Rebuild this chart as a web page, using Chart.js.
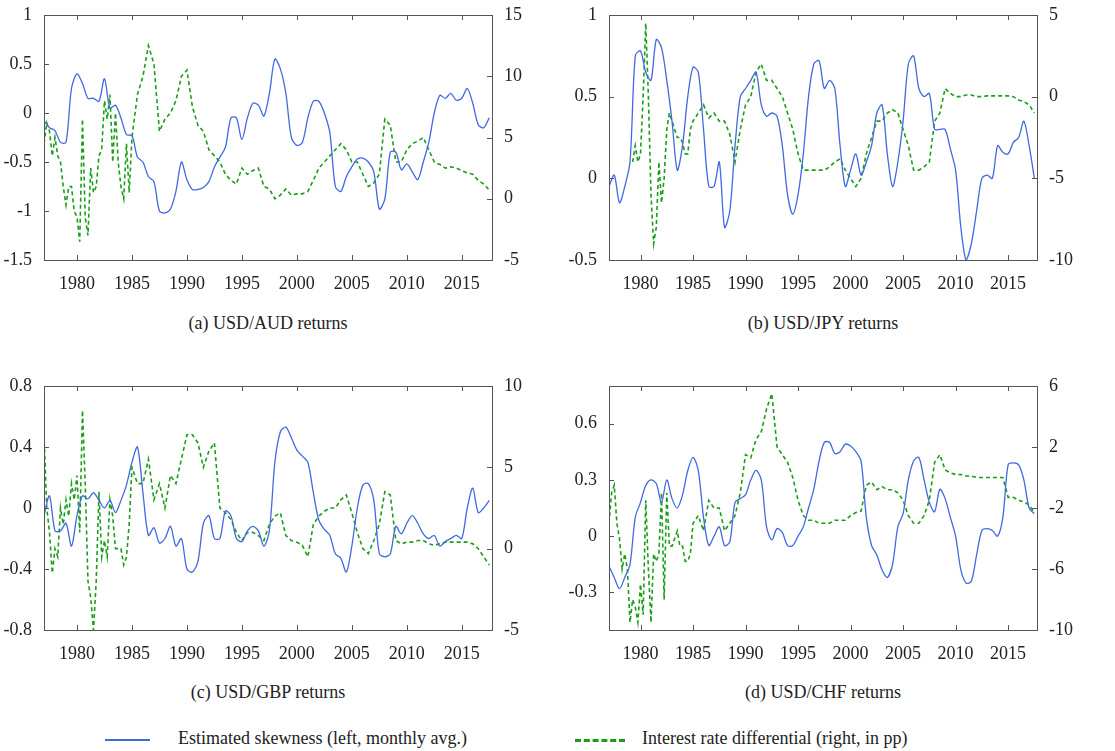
<!DOCTYPE html>
<html>
<head>
<meta charset="utf-8">
<script src="https://cdn.jsdelivr.net/npm/chart.js@4"></script>
<style>
  body { margin: 0; background: #fff; width: 1115px; height: 751px; position: relative; overflow: hidden; font-family: "Liberation Serif", "DejaVu Serif", serif; }
  canvas { position: absolute; }
  .cap { position: absolute; font-size: 18px; color: #222; text-align: center; width: 400px; }
  .legend { position: absolute; top: 728px; font-size: 18px; color: #222; }
  .sw { position: absolute; top: 739px; height: 0; }
</style>
</head>
<body>
<canvas id="ca" width="540" height="290" style="left:0;top:0"></canvas>
<canvas id="cb" width="565" height="290" style="left:550px;top:0"></canvas>
<canvas id="cc" width="540" height="290" style="left:0;top:370px"></canvas>
<canvas id="cd" width="565" height="290" style="left:550px;top:370px"></canvas>
<div class="cap" style="left:68px;top:313px">(a) USD/AUD returns</div>
<div class="cap" style="left:623px;top:313px">(b) USD/JPY returns</div>
<div class="cap" style="left:68px;top:682px">(c) USD/GBP returns</div>
<div class="cap" style="left:623px;top:682px">(d) USD/CHF returns</div>
<div class="sw" style="left:105px;width:45px;border-top:2px solid #4169e1"></div>
<div class="legend" style="left:178px">Estimated skewness (left, monthly avg.)</div>
<div class="sw" style="left:575px;width:50px;border-top:3px dashed #1a9e1a"></div>
<div class="legend" style="left:642px">Interest rate differential (right, in pp)</div>
<script>
// time grids: skewness every half year, rate quarterly until 1985 then half-yearly
const skewYears = [];
for (let y = 1977; y <= 2017.5; y += 0.5) skewYears.push(y);
const rateYears = [];
for (let y = 1977; y < 1985; y += 0.25) rateYears.push(y);
for (let y = 1985; y <= 2017.5; y += 0.5) rateYears.push(y);
const yearTicks = [1980, 1985, 1990, 1995, 2000, 2005, 2010, 2015];

// (a) USD/AUD
const skewAUD = [
  -0.08, -0.15, -0.18, -0.3, -0.3, 0.25, 0.4, 0.3, 0.15, 0.15,
  0.12, 0.35, 0.05, 0.08, -0.05, -0.22, -0.23, -0.45, -0.5, -0.65,
  -0.7, -1.0, -1.02, -0.98, -0.8, -0.5, -0.68, -0.78, -0.78, -0.76,
  -0.7, -0.55, -0.45, -0.35, -0.05, -0.05, -0.27, -0.05, 0.1, 0.08,
  -0.03, 0.2, 0.55, 0.45, 0.2, -0.25, -0.33, -0.3, -0.05, 0.12,
  0.12, 0.0, -0.2, -0.75, -0.8, -0.65, -0.55, -0.47, -0.46, -0.5,
  -0.6, -0.98, -0.88, -0.4, -0.4, -0.58, -0.52, -0.6, -0.68, -0.5,
  -0.3, 0.0, 0.18, 0.15, 0.2, 0.13, 0.15, 0.25, 0.1, -0.12,
  -0.15, -0.05
];
const rateAUD = [
  4.5, 6.2, 5.5, 3.5, 5, 3.5, 3, 1, -0.5, 1, 1, -1, -1.5, -3.5, 6.5, -1.5,
  -3, 2.5, 0.5, 1, 3.5, 4, 8, 6.5, 8.5, 3, 7, 3, 1, 0, 4.5, 0.5,
  5, 8.5, 10, 12.5, 11, 5.5, 6.5, 7, 8, 10,
  10.5, 7.5, 6, 5.5, 4, 3.5, 3, 2, 1.5, 1.2,
  2.5, 2, 2.3, 2.5, 1, 0.8, 0, 0.3, 0.8, 0.3,
  0.4, 0.4, 0.6, 1.5, 2.5, 3, 3.5, 4, 4.5, 4,
  3, 3, 2, 1, 1.3, 2, 6.5, 6, 3, 3,
  4, 4.5, 4.7, 5, 4, 3, 2.8, 2.5, 2.6, 2.5,
  2.3, 2.1, 2, 1.5, 1.2, 0.7
];

// (b) USD/JPY
const skewJPY = [
  -0.05, 0.02, -0.15, -0.05, 0.1, 0.75, 0.78, 0.65, 0.6, 0.85,
  0.8, 0.6, 0.35, 0.05, 0.2, 0.5, 0.68, 0.65, 0.3, -0.05,
  -0.05, 0.1, -0.3, -0.2, 0.2, 0.5, 0.55, 0.6, 0.65, 0.45,
  0.38, 0.4, 0.38, 0.2, -0.1, -0.22, -0.1, 0.15, 0.5, 0.7,
  0.72, 0.55, 0.6, 0.55, 0.2, -0.05, 0.05, 0.15, 0.02, 0.1,
  0.2, 0.4, 0.45, 0.15, -0.05, 0.1, 0.35, 0.7, 0.75, 0.55,
  0.5, 0.52, 0.3, 0.3, 0.3, 0.18, 0.05, -0.3, -0.5, -0.4,
  -0.2, 0.0, 0.02, 0.0, 0.2, 0.16, 0.15, 0.22, 0.25, 0.35,
  0.2, 0.0
];
const rateJPY = [
  null, null, null, null, null, null, null, null, null, -4, -3, -4,
  -3.5, 0, 4.5, 0, -6, -9, -8, -4, -6.5, -5, -2, -1,
  -1.5, -2, -2.5, -2.5, -2.8, -3.5, -3.5, -2,
  -1.5, -1, -0.5, -1.3, -1, -1.5, -1.5, -2.3, -4, -2,
  -0.5, 0, 1.5, 2, 1, 1, 0.5, 0, -1, -2,
  -3.5, -4.5, -4.5, -4.5, -4.5, -4.5, -4.3, -4, -3.8, -4.5,
  -5, -5.5, -5, -3.5, -2.5, -1.5, -1.5, -1, -0.8, -1,
  -2, -3, -4.5, -4.5, -4.3, -4, -1.5, -1, 0.5, 0.2,
  0, 0, 0.1, 0.1, 0, 0, 0.05, 0.05, 0.05, 0.05,
  0.05, 0, -0.2, -0.3, -0.5, -1
];

// (c) USD/GBP
const skewGBP = [
  -0.05, 0.08, -0.15, -0.15, -0.1, -0.25, -0.05, 0.08, 0.06, 0.1,
  0.05, 0.0, 0.05, -0.03, 0.05, 0.15, 0.3, 0.4, 0.1, -0.18,
  -0.13, -0.23, -0.2, -0.12, -0.25, -0.2, -0.4, -0.42, -0.35, -0.1,
  -0.05, -0.2, -0.2, -0.02, -0.05, -0.2, -0.22, -0.15, -0.12, -0.15,
  -0.25, -0.15, 0.3, 0.5, 0.53, 0.46, 0.38, 0.34, 0.3, 0.1,
  -0.08, -0.14, -0.18, -0.3, -0.33, -0.42, -0.25, 0.0, 0.15, 0.16,
  0.05, -0.3, -0.32, -0.3, -0.12, -0.17, -0.1, -0.05, -0.1, -0.17,
  -0.2, -0.18, -0.25, -0.22, -0.2, -0.18, -0.2, 0.0, 0.13, -0.03,
  0.0, 0.05
];
const rateGBP = [
  7, 2.5, 1, -1.5, 0, -0.5, 2.5, 1.5, 3, 2, 4, 3,
  4.5, 1, 8.5, 4, -2, -3, -5, -2, 3.5, -0.5, 0.5, -0.5,
  3, 2, 0, 0, 0, -1, -0.5, 1.5,
  5, 4, 4, 5.5, 3, 4, 2.5, 4.5, 4, 5.5,
  7, 7, 6.5, 5, 6, 6.5, 2.5, 2.2, 1.8, 1,
  0.5, 1, 1, 0.8, 0.5, 1.5, 2, 2.2, 0.8, 0.5,
  0.4, 0.2, -0.5, 1.5, 2, 2.3, 2.5, 2.5, 3.0, 3.3,
  2.2, 1, 0, -0.3, 0.5, 1.5, 3.5, 3.3, 0.5, 0.3,
  0.4, 0.4, 0.5, 0.5, 0.3, 0.2, 0.3, 0.4, 0.4, 0.4,
  0.4, 0.4, 0.3, 0, -0.5, -1
];

// (d) USD/CHF
const skewCHF = [
  -0.16, -0.22, -0.28, -0.22, -0.15, 0.1, 0.18, 0.27, 0.3, 0.28,
  0.18, 0.3, 0.2, 0.15, 0.22, 0.35, 0.42, 0.35, 0.1, -0.05,
  0.0, 0.05, -0.05, -0.03, 0.18, 0.2, 0.22, 0.3, 0.35, 0.3,
  0.05, -0.02, 0.04, 0.02, -0.05, -0.05, 0.0, 0.05, 0.15, 0.25,
  0.4, 0.5, 0.5, 0.44, 0.45, 0.49, 0.48, 0.45, 0.4, 0.1,
  -0.05, -0.1, -0.18, -0.22, -0.15, 0.05, 0.12, 0.3, 0.4, 0.42,
  0.3, 0.18, 0.13, 0.25, 0.2, 0.1, 0.0, -0.18, -0.25, -0.24,
  -0.1, 0.03, 0.04, 0.03, 0.0, 0.1, 0.38, 0.39, 0.38, 0.3,
  0.15, 0.12
];
const rateCHF = [
  -3, -1, -0.5, -3, -4, -6, -5, -6, -9.5, -8, -8.5, -9.5,
  -7, -9, -1.5, -6, -9.5, -5, -5.5, -5, -1, -8, -1, -4.5,
  -4.5, -4, -3.5, -4.5, -4.5, -5.5, -5.5, -5,
  -3, -2.5, -3.5, -1.5, -2, -2, -3.5, -3, -2.5, -1,
  1.5, 1.3, 2.5, 3, 4.5, 5.5, 2, 1.5, 1, 0,
  -1.5, -2.5, -2.8, -2.8, -3, -3, -3, -2.8, -2.8, -2.8,
  -2.5, -2.3, -2.2, -0.5, -0.3, -0.8, -0.6, -0.8, -0.8, -1.0,
  -1.5, -2.5, -3.0, -3.0, -2.5, -1.5, 1.0, 1.5, 0.5, 0.3,
  0.2, 0.2, 0.1, 0.1, 0.0, 0.0, 0.0, 0.0, 0.0, 0.0,
  -1.3, -1.3, -1.5, -1.6, -1.8, -2.3
];

const tickFont = { family: "'Liberation Serif', 'DejaVu Serif', serif", size: 18 };

// frame with ticks pointing inward
const framePlugin = {
  id: "frame",
  afterDraw(chart) {
    const { ctx, chartArea: a, scales } = chart;
    ctx.save();
    ctx.strokeStyle = "#555";
    ctx.lineWidth = 1;
    ctx.strokeRect(a.left + 0.5, a.top + 0.5, a.right - a.left, a.bottom - a.top);
    ctx.beginPath();
    scales.x.ticks.forEach((t) => {
      const px = Math.round(scales.x.getPixelForValue(t.value)) + 0.5;
      ctx.moveTo(px, a.bottom); ctx.lineTo(px, a.bottom - 5);
      ctx.moveTo(px, a.top); ctx.lineTo(px, a.top + 5);
    });
    scales.y.ticks.forEach((t) => {
      const py = Math.round(scales.y.getPixelForValue(t.value)) + 0.5;
      ctx.moveTo(a.left, py); ctx.lineTo(a.left + 5, py);
    });
    scales.y1.ticks.forEach((t) => {
      const py = Math.round(scales.y1.getPixelForValue(t.value)) + 0.5;
      ctx.moveTo(a.right, py); ctx.lineTo(a.right - 5, py);
    });
    ctx.stroke();
    ctx.restore();
  },
};

function makeChart(id, skew, rate, left, right, leftW, rightW, top) {
  const fixTicks = (list) => (s) => { if (list) s.ticks = list.map((v) => ({ value: v })); };
  new Chart(document.getElementById(id), {
    type: "line",
    data: {
      datasets: [
        {
          data: skew.map((v, i) => ({ x: skewYears[i], y: v })),
          yAxisID: "y", borderColor: "#4169e1", borderWidth: 1.3,
          pointRadius: 0, tension: 0.3,
        },
        {
          data: rate.map((v, i) => ({ x: rateYears[i], y: v })),
          yAxisID: "y1", borderColor: "#1a9e1a", borderWidth: 1.6,
          borderDash: [4, 3], pointRadius: 0, tension: 0,
        },
      ],
    },
    options: {
      responsive: false,
      animation: false,
      layout: { padding: { top: top, left: 0, right: 0, bottom: 0 } },
      plugins: { legend: { display: false }, tooltip: { enabled: false } },
      scales: {
        x: {
          type: "linear", min: 1977, max: 2017.75,
          afterBuildTicks: fixTicks(yearTicks),
          afterFit: (s) => { s.height = 30; },
          grid: { display: false }, border: { display: false },
          ticks: { font: tickFont, color: "#222", padding: 5, callback: (v) => String(v), maxRotation: 0 },
        },
        y: {
          position: "left", min: left.min, max: left.max,
          afterBuildTicks: fixTicks(left.ticks),
          afterFit: (s) => { s.width = leftW; },
          grid: { display: false }, border: { display: false },
          ticks: { font: tickFont, color: "#222", padding: 4, callback: (v) => String(v) },
        },
        y1: {
          position: "right", min: right.min, max: right.max,
          afterBuildTicks: fixTicks(right.ticks),
          afterFit: (s) => { s.width = rightW; },
          grid: { display: false }, border: { display: false },
          ticks: { font: tickFont, color: "#222", padding: 4, callback: (v) => String(v) },
        },
      },
    },
    plugins: [framePlugin],
  });
}

function drawAll() {
  makeChart("ca", skewAUD, rateAUD,
    { min: -1.5, max: 1, ticks: [-1.5, -1, -0.5, 0, 0.5, 1] },
    { min: -5, max: 15, ticks: [-5, 0, 5, 10, 15] }, 44, 48, 15);
  makeChart("cb", skewJPY, rateJPY,
    { min: -0.5, max: 1, ticks: [-0.5, 0, 0.5, 1] },
    { min: -10, max: 5, ticks: [-10, -5, 0, 5] }, 59, 78, 15);
  makeChart("cc", skewGBP, rateGBP,
    { min: -0.8, max: 0.8, ticks: [-0.8, -0.4, 0, 0.4, 0.8] },
    { min: -5, max: 10, ticks: [-5, 0, 5, 10] }, 44, 48, 16);
  makeChart("cd", skewCHF, rateCHF,
    { min: -0.5, max: 0.8, ticks: [-0.3, 0, 0.3, 0.6] },
    { min: -10, max: 6, ticks: [-10, -6, -2, 2, 6] }, 59, 78, 16);
}

document.fonts.load("18px 'Liberation Serif'").then(drawAll, drawAll);
</script>
</body>
</html>
